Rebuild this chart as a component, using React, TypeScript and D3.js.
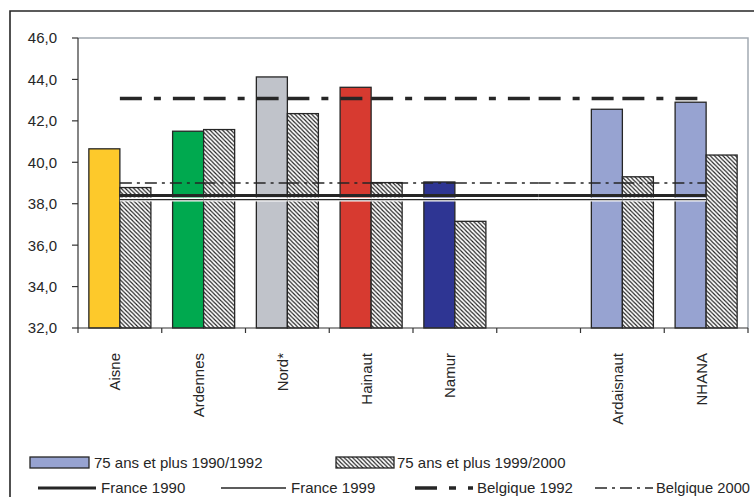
import React from "react";
import * as d3 from "d3";

const categories = ["Aisne", "Ardennes", "Nord*", "Hainaut", "Namur", "", "Ardaisnaut", "NHANA"];
const values1990 = [40.65, 41.5, 44.12, 43.62, 39.05, null, 42.56, 42.9];
const values1999 = [38.78, 41.58, 42.35, 39.02, 37.15, null, 39.3, 40.35];
const france1990 = [38.4, 38.4, 38.4, 38.4, 38.4, 38.4, 38.4, 38.4];
const france1999 = [38.2, 38.2, 38.2, 38.2, 38.2, 38.2, 38.2, 38.2];
const belgique1992 = [43.08, 43.08, 43.08, 43.08, 43.08, 43.08, 43.08, 43.08];
const belgique2000 = [39.0, 39.0, 39.0, 39.0, 39.0, 39.0, 39.0, 39.0];
const yTicks = [32, 34, 36, 38, 40, 42, 44, 46];
const seriesNames = ["75 ans et plus 1990/1992", "75 ans et plus 1999/2000"];
const lineNames = ["France 1990", "France 1999", "Belgique 1992", "Belgique 2000"];

const barColors = ["#FDC92B", "#00A94F", "#C0C3CA", "#D73A30", "#2E3593", "#FFFFFF", "#97A3D1", "#97A3D1"];
const legendColor = "#97A3D1";

const W = 754;
const H = 497;
const plot = { left: 78, right: 748, top: 38, bottom: 328 };
const FONT = "'Liberation Sans', Arial, sans-serif";
const INK = "#262626";
const FS = 15;

const fmt = d3.formatLocale({ decimal: ",", thousands: " ", grouping: [3], currency: ["", "€"] }).format(".1f");

export default function App() {
  const x = d3.scaleBand<string>().domain(categories.map((c, i) => String(i))).range([plot.left, plot.right]).padding(0);
  const x1 = d3.scaleBand<string>().domain(["a", "b"]).range([0, x.bandwidth()]).paddingInner(0).paddingOuter(0.35);
  const y = d3.scaleLinear().domain([32, 46]).range([plot.bottom, plot.top]);
  const cx = (i: number) => (x(String(i)) as number) + x.bandwidth() / 2;

  const lineSpecs = [
    { data: belgique2000, width: 1.3, dash: "12,5,3,5", halo: false },
    { data: france1999, width: 1.3, dash: null, halo: true },
    { data: france1990, width: 3, dash: null, halo: false },
    { data: belgique1992, width: 3.4, dash: "22,12,7,12", halo: false },
  ];

  const seg = d3.line<[number, number]>().x((d) => d[0]).y((d) => d[1]);

  const segments = (vals: number[]) => {
    const out: [number, number][][] = [];
    for (let i = 0; i < vals.length - 1; i++) {
      out.push([
        [cx(i), y(vals[i])],
        [cx(i + 1), y(vals[i + 1])],
      ]);
    }
    return out;
  };

  const boundaries = d3.range(categories.length + 1).map((i) => plot.left + i * x.step());

  return (
    <svg width={W} height={H} style={{ position: "absolute", left: 0, top: 0, background: "#fff" }} fontFamily={FONT}>
      <defs>
        <pattern id="hatch" patternUnits="userSpaceOnUse" width="4.2" height="4.2">
          <rect width="4.2" height="4.2" fill="#fff" />
          <path d="M-1,-1 L5.2,5.2 M-1,3.2 L1,5.2 M3.2,-1 L5.2,1" stroke="#1e1e1e" strokeWidth="1.15" />
        </pattern>
      </defs>
      <rect x={0} y={0} width={W} height={H} fill="#fff" />
      {/* outer frame */}
      <path d={`M10,${H + 5} L10,11 L${W + 5},11`} fill="none" stroke={INK} strokeWidth={1.6} />

      {/* plot frame */}
      <path d={`M${plot.left},${plot.top} L${plot.right},${plot.top} L${plot.right},${plot.bottom}`} fill="none" stroke="#A3ABB3" strokeWidth={1.5} />

      {/* bars */}
      {categories.map((c, i) => {
        const g = x(String(i)) as number;
        const v1 = values1990[i];
        const v2 = values1999[i];
        return (
          <g key={i}>
            {v1 != null && (
              <rect x={g + (x1("a") as number)} y={y(v1)} width={x1.bandwidth()} height={y(32) - y(v1)} fill={barColors[i]} stroke={INK} strokeWidth={1.3} />
            )}
            {v2 != null && (
              <rect x={g + (x1("b") as number)} y={y(v2)} width={x1.bandwidth()} height={y(32) - y(v2)} fill="url(#hatch)" stroke={INK} strokeWidth={1.3} />
            )}
          </g>
        );
      })}

      {/* reference lines */}
      {lineSpecs.map((s, k) => (
        <g key={k}>
          {s.halo && segments(s.data).map((p, j) => <path key={"h" + j} d={seg(p) as string} stroke="#fff" strokeWidth={4} fill="none" />)}
          {segments(s.data).map((p, j) => (
            <path key={j} d={seg(p) as string} stroke={INK} strokeWidth={s.width} fill="none" strokeDasharray={s.dash ?? undefined} />
          ))}
        </g>
      ))}

      {/* axes */}
      <line x1={plot.left} x2={plot.left} y1={plot.top} y2={plot.bottom} stroke="#333" strokeWidth={1.2} />
      <line x1={plot.left} x2={plot.right} y1={plot.bottom} y2={plot.bottom} stroke="#333" strokeWidth={1.2} />
      {yTicks.map((t) => (
        <g key={t}>
          <line x1={plot.left - 6} x2={plot.left} y1={y(t)} y2={y(t)} stroke="#333" strokeWidth={1.2} />
          <text x={57} y={y(t)} dy="0.36em" textAnchor="end" fontSize={FS} fill={INK}>
            {fmt(t)}
          </text>
        </g>
      ))}
      {boundaries.map((b, i) => (
        <line key={i} x1={b} x2={b} y1={plot.bottom} y2={plot.bottom + 5} stroke="#333" strokeWidth={1.2} />
      ))}
      {categories.map((c, i) => (
        <text key={i} transform={`translate(${cx(i) + 0.5},353) rotate(-90)`} textAnchor="end" fontSize={FS} fill={INK}>
          {c}
        </text>
      ))}

      {/* legend */}
      <g fontSize={FS} fill={INK}>
        <rect x={30} y={457} width={59} height={11} fill={legendColor} stroke={INK} strokeWidth={1.3} />
        <text x={94} y={468}>{seriesNames[0]}</text>
        <rect x={336} y={457} width={58} height={11} fill="url(#hatch)" stroke={INK} strokeWidth={1.3} />
        <text x={397} y={468}>{seriesNames[1]}</text>

        <line x1={38} x2={96} y1={488} y2={488} stroke={INK} strokeWidth={3} />
        <text x={101} y={493}>{lineNames[0]}</text>
        <line x1={221} x2={286} y1={488} y2={488} stroke={INK} strokeWidth={1.3} />
        <text x={291} y={493}>{lineNames[1]}</text>
        <line x1={415} x2={473} y1={488} y2={488} stroke={INK} strokeWidth={3.4} strokeDasharray="22,12,7,12" />
        <text x={477} y={493}>{lineNames[2]}</text>
        <line x1={595} x2={653} y1={488} y2={488} stroke={INK} strokeWidth={1.3} strokeDasharray="12,5,3,5" />
        <text x={656} y={493} textLength={94} lengthAdjust="spacingAndGlyphs">{lineNames[3]}</text>
      </g>
    </svg>
  );
}
